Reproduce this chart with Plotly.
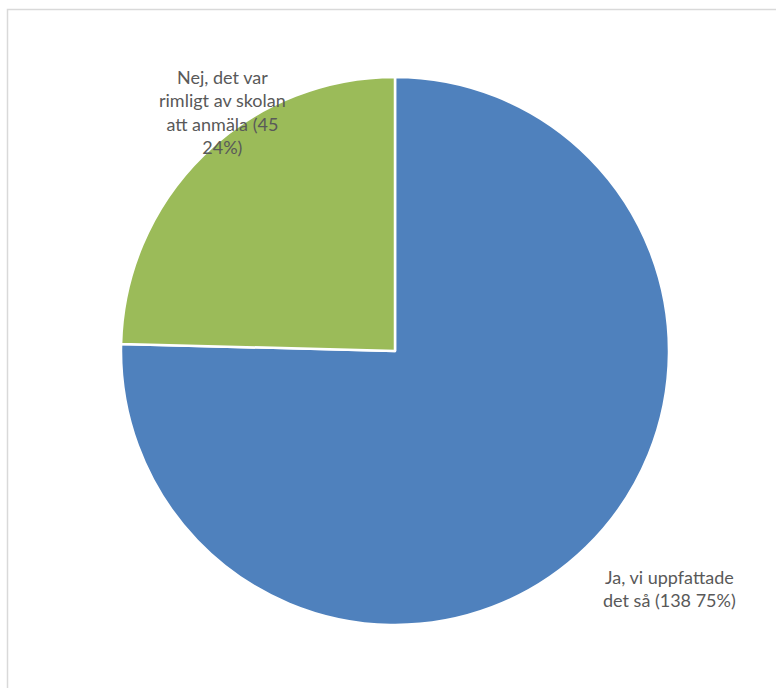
import plotly.graph_objects as go

categories = ["Ja, vi uppfattade det så", "Nej, det var rimligt av skolan att anmäla"]
values = [138, 45]
label_texts = ["Ja, vi uppfattade<br>det så (138 75%)",
               "Nej, det var<br>rimligt av skolan<br>att anmäla (45<br>24%)"]
colors = ["#4F81BD", "#9BBB59"]

W, H = 776, 688
cx, cy, r = 395, 351, 274

fig = go.Figure(go.Pie(
    labels=categories, values=values, sort=False, direction="clockwise",
    rotation=0, marker=dict(colors=colors, line=dict(color="white", width=2.5)),
    textinfo="none", hoverinfo="label+value+percent", showlegend=False,
    domain=dict(x=[(cx - r) / W, (cx + r) / W], y=[1 - (cy + r) / H, 1 - (cy - r) / H]),
))

label_pos = [(669, 588), (222, 112)]
for txt, (px, py) in zip(label_texts, label_pos):
    fig.add_annotation(text=txt, x=px / W, y=1 - py / H, xref="paper", yref="paper",
                       showarrow=False, xanchor="center", yanchor="middle", align="center",
                       font=dict(family="Lato, Open Sans, sans-serif", size=18, color="#595959"))

fig.add_shape(type="rect", xref="paper", yref="paper",
              x0=7.5 / W, x1=1.02, y0=-0.02, y1=1 - 9.5 / H,
              line=dict(color="#D9D9D9", width=1.5), fillcolor="rgba(0,0,0,0)")

fig.update_layout(width=W, height=H, margin=dict(l=0, r=0, t=0, b=0),
                  paper_bgcolor="white", plot_bgcolor="white")
fig.write_html("out.html", config={"displayModeBar": False},
               post_script="document.body.style.margin='0';document.body.style.overflow='hidden';")
